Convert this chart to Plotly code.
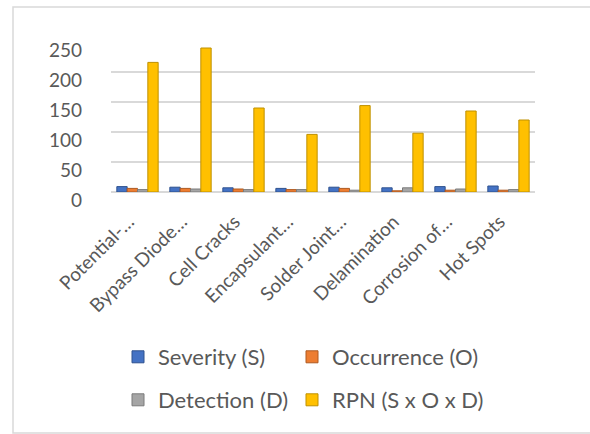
import plotly.graph_objects as go

categories = ["Potential-…", "Bypass Diode…", "Cell Cracks", "Encapsulant…",
              "Solder Joint…", "Delamination", "Corrosion of…", "Hot Spots"]
severity = [9, 8, 7, 6, 8, 7, 9, 10]
occurrence = [6, 6, 5, 4, 6, 2, 3, 3]
detection = [4, 5, 4, 4, 3, 7, 5, 4]
rpn = [216, 240, 140, 96, 144, 98, 135, 120]

FONT = "Lato"
TXT = "#595959"
GRID = "#d9d9d9"

fig = go.Figure()
series = [
    ("Severity (S)", severity, "#4472C4", "#2f528f", "legend"),
    ("Occurrence (O)", occurrence, "#ED7D31", "#ae5a21", "legend2"),
    ("Detection (D)", detection, "#A5A5A5", "#7b7b7b", "legend3"),
    ("RPN (S x O x D)", rpn, "#FFC000", "#bf9000", "legend4"),
]
for name, vals, col, edge, lg in series:
    fig.add_trace(go.Bar(
        x=categories, y=vals, name=name, legend=lg, showlegend=True,
        marker=dict(color=col, line=dict(color=edge, width=1)),
    ))

L, R, T, B = 111, 55, 42, 242
W, H = 590, 434
pw, ph = W - L - R, H - T - B

def px_x(p):
    return (p - L) / pw

def px_y(p):
    return (H - B - p) / ph

# chart-area frame (right edge falls outside the picture)
xl, xr, yt, yb = px_x(13), px_x(590), px_y(7), px_y(433)
fig.add_shape(type="path", xref="paper", yref="paper",
              path=f"M {xr} {yt} L {xl} {yt} L {xl} {yb} L {xr} {yb}",
              line=dict(color=GRID, width=1.5), layer="below")

def leg(xp, yp):
    return dict(orientation="h", xanchor="left", yanchor="middle",
                x=px_x(xp), y=px_y(yp),
                font=dict(family=FONT, size=22, color=TXT),
                bgcolor="rgba(0,0,0,0)")

fig.update_layout(
    width=W, height=H,
    margin=dict(l=L, r=R, t=T, b=B),
    paper_bgcolor="white", plot_bgcolor="white",
    font=dict(family=FONT, color=TXT),
    showlegend=True,
    barmode="group", bargap=0.22, bargroupgap=0,
    legend=leg(118, 357),
    legend2=leg(292, 357),
    legend3=leg(118, 400),
    legend4=leg(292, 400),
    xaxis=dict(
        tickangle=-45, showgrid=False, showline=False, ticks="",
        tickfont=dict(family=FONT, size=19, color=TXT),
        ticklabelstandoff=14, ticklabelshift=-9,
    ),
    yaxis=dict(
        range=[0, 250], tickvals=[0, 50, 100, 150, 200, 250],
        showgrid=True, gridcolor=GRID, gridwidth=2,
        zeroline=True, zerolinecolor=GRID, zerolinewidth=2,
        showline=False, ticks="",
        tickfont=dict(family=FONT, size=19, color=TXT),
        ticklabelstandoff=28, ticklabelshift=8,
    ),
)

fig.write_html("out.html", config={"displayModeBar": False},
               post_script="document.body.style.margin='0';")
